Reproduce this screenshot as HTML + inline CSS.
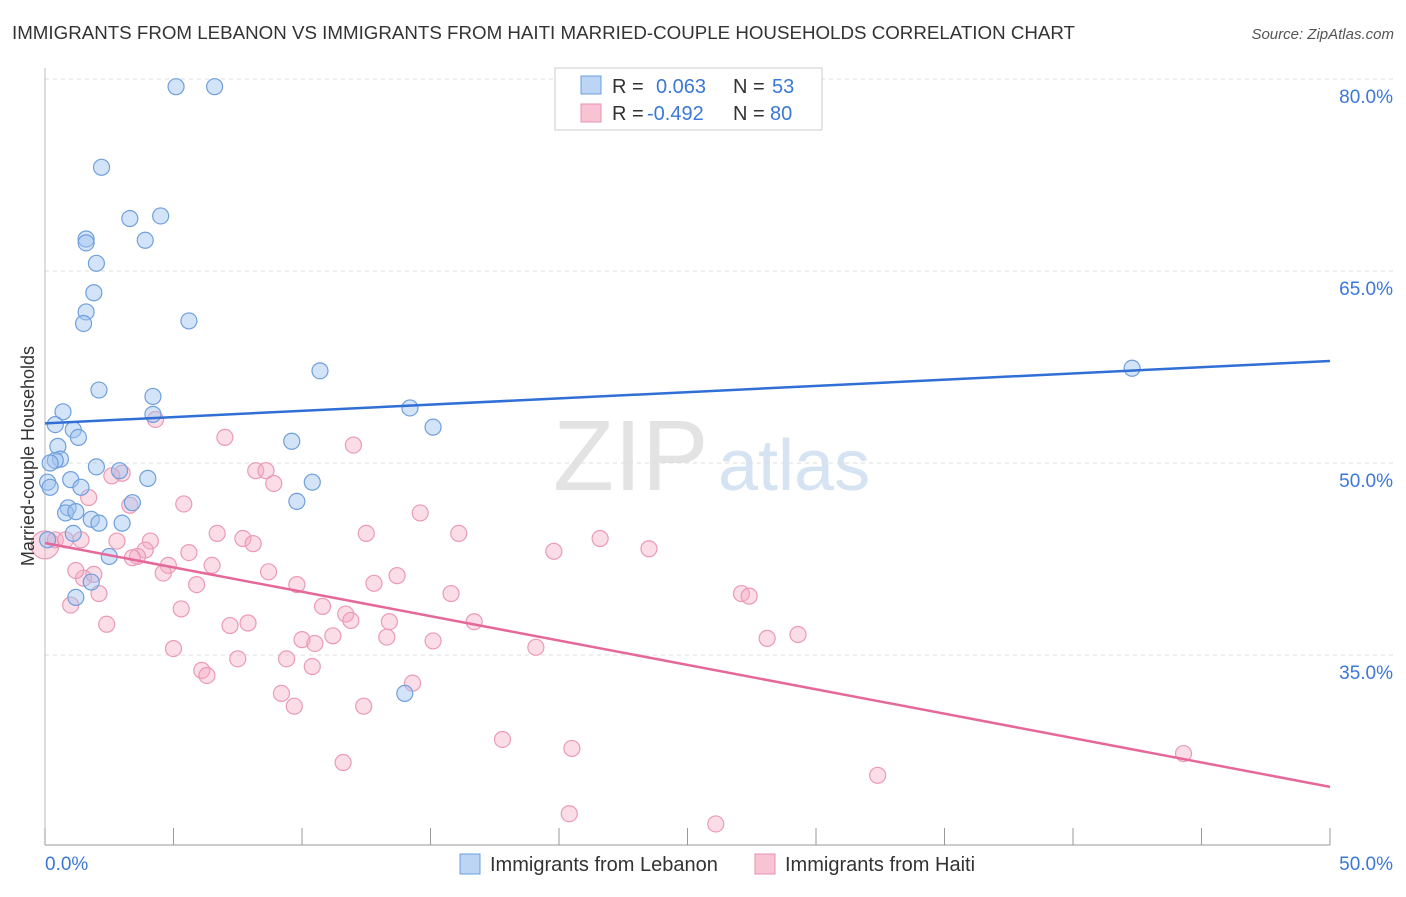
<!DOCTYPE html>
<html><head><meta charset="utf-8">
<style>
body{margin:0;background:#fff;font-family:"Liberation Sans",sans-serif;}
svg text{font-family:"Liberation Sans",sans-serif;}
</style></head>
<body>
<svg id="chart" width="1406" height="892" viewBox="0 0 1406 892" xmlns="http://www.w3.org/2000/svg">
<text x="12" y="39" font-size="18" fill="#333" textLength="1063" lengthAdjust="spacingAndGlyphs">IMMIGRANTS FROM LEBANON VS IMMIGRANTS FROM HAITI MARRIED-COUPLE HOUSEHOLDS CORRELATION CHART</text>
<text x="1394" y="39" font-size="15" fill="#555" text-anchor="end" font-style="italic">Source: ZipAtlas.com</text>
<g>
<text x="553" y="490" font-size="100" fill="#e3e3e3" font-family="Liberation Serif, serif">ZIP</text>
<text x="718" y="490" font-size="72" fill="#d5e3f3">atlas</text>
</g>
<g id="grid"></g>
<g id="axes"></g>
<g id="pts"></g>
<g id="lines"></g>
<text transform="translate(34,456) rotate(-90)" font-size="18" fill="#333" text-anchor="middle">Married-couple Households</text>
<g>
<rect x="555" y="68" width="267" height="62" fill="#fff" stroke="#ccc"/>
<rect x="581" y="76" width="20" height="18" fill="#bcd5f5" stroke="#6a9ee0"/>
<text x="612" y="93" font-size="20" fill="#333">R = </text><text x="656" y="93" font-size="20" fill="#3b78d8">0.063</text>
<text x="733" y="93" font-size="20" fill="#333">N = </text><text x="772" y="93" font-size="20" fill="#3b78d8">53</text>
<rect x="581" y="104" width="20" height="18" fill="#f8c4d4" stroke="#e890b0"/>
<text x="612" y="120" font-size="20" fill="#333">R = </text><text x="647" y="120" font-size="20" fill="#3b78d8">-0.492</text>
<text x="733" y="120" font-size="20" fill="#333">N = </text><text x="770" y="120" font-size="20" fill="#3b78d8">80</text>
</g>
<g>
<rect x="460" y="854" width="20" height="20" fill="#bcd5f5" stroke="#6a9ee0"/>
<text x="490" y="871" font-size="20" fill="#333">Immigrants from Lebanon</text>
<rect x="755" y="854" width="20" height="20" fill="#f8c4d4" stroke="#e890b0"/>
<text x="785" y="871" font-size="20" fill="#333">Immigrants from Haiti</text>
</g>
</svg>
<script>
const yTicks=[35,50,65,80];
const xTickLabels=["0.0%","50.0%"];
const blueX=[5.1,6.6,2.2,3.3,4.5,1.6,1.6,3.9,2.0,1.9,1.6,1.5,5.6,10.7,2.1,4.2,0.7,4.2,14.2,42.3,0.4,15.1,1.1,1.3,9.6,0.5,0.6,0.4,0.2,2.0,2.9,4.0,1.0,0.1,0.2,10.4,1.4,9.8,3.4,0.9,0.8,1.2,1.8,2.1,3.0,1.1,2.5,1.8,1.2,14.0,0.1];
const blueY=[79.4,79.4,73.1,69.1,69.3,67.5,67.2,67.4,65.6,63.3,61.8,60.9,61.1,57.2,55.7,55.2,54.0,53.8,54.3,57.4,53.0,52.8,52.6,52.0,51.7,51.3,50.3,50.2,50.0,49.7,49.4,48.8,48.7,48.5,48.1,48.5,48.1,47.0,46.9,46.5,46.1,46.2,45.6,45.3,45.3,44.5,42.7,40.7,39.5,32.0,44.0];
const pinkX=[0,0.4,0.8,1.4,4.3,7.0,12.0,8.2,8.6,3.0,2.6,8.9,1.7,3.3,5.4,14.6,12.5,16.1,6.7,7.7,8.1,4.1,2.8,3.9,5.6,19.8,21.6,23.5,3.6,3.4,4.8,6.5,4.6,8.7,1.9,1.5,1.2,13.7,12.8,9.8,5.9,2.1,15.8,27.1,27.4,1.0,5.3,10.8,11.7,11.9,13.4,16.7,2.4,7.2,7.9,10.0,11.2,13.3,10.5,15.1,28.1,29.3,19.1,5.0,7.5,9.4,10.4,6.1,6.3,14.3,9.2,9.7,12.4,17.8,20.5,44.3,11.6,32.4,20.4,26.1];
const pinkY=[43.6,44.0,44.0,44.0,53.4,52.0,51.4,49.4,49.4,49.2,49.0,48.4,47.3,46.7,46.8,46.1,44.5,44.5,44.5,44.1,43.7,43.9,43.9,43.2,43.0,43.1,44.1,43.3,42.7,42.6,42.0,42.0,41.4,41.5,41.3,41.0,41.6,41.2,40.6,40.5,40.5,39.8,39.8,39.8,39.6,38.9,38.6,38.8,38.2,37.7,37.6,37.6,37.4,37.3,37.5,36.2,36.5,36.4,35.9,36.1,36.3,36.6,35.6,35.5,34.7,34.7,34.1,33.8,33.4,32.8,32.0,31.0,31.0,28.4,27.7,27.3,26.6,25.6,22.6,21.8];
const blueTrend=[53.1,57.97];
const pinkTrend=[43.75,24.7];
const NS="http://www.w3.org/2000/svg";
const xs=v=>45+v*25.7, ys=v=>463-(v-50)*12.8;
function mk(tag,attrs,parent){const e=document.createElementNS(NS,tag);for(const k in attrs)e.setAttribute(k,attrs[k]);document.getElementById(parent).appendChild(e);return e;}
yTicks.forEach(t=>{
 const l=mk('line',{x1:45,x2:1394,y1:ys(t),y2:ys(t),stroke:'#ddd','stroke-dasharray':'4,4'},'grid');
 
 
 const tx=mk('text',{x:1393,y:ys(t)+24,'font-size':19,fill:'#3b78d8','text-anchor':'end'},'grid');
 tx.textContent=t.toFixed(1)+'%';
 
 
});
const ax=mk('line',{x1:45,x2:1330,y1:845,y2:845,stroke:'#999'},'axes');


const ay=mk('line',{x1:45,x2:45,y1:68,y2:845,stroke:'#bbb'},'axes');


for(let i=0;i<=10;i++){const t=mk('line',{x1:xs(i*5),x2:xs(i*5),y1:828,y2:845,stroke:'#999'},'axes');
 
 }
[[0,'start',45],[50,'end',1393]].forEach((p,i)=>{const t=mk('text',{x:p[2],y:870,'font-size':19,fill:'#3b78d8','text-anchor':p[1]},'axes');t.textContent=xTickLabels[i];
 
 });
pinkX.forEach((x,i)=>{const c=mk('circle',{cx:xs(x),cy:ys(pinkY[i]),r:i===0?14:8,fill:'rgba(244,170,195,0.4)',stroke:'#eb9ab6','stroke-width':1.2},'pts');
 
 });
blueX.forEach((x,i)=>{const c=mk('circle',{cx:xs(x),cy:ys(blueY[i]),r:8,fill:'rgba(160,195,240,0.45)',stroke:'#6f9fdc','stroke-width':1.2},'pts');
 
 });
const bl=mk('line',{x1:xs(0),x2:xs(50),y1:ys(blueTrend[0]),y2:ys(blueTrend[1]),stroke:'#2f6fd6','stroke-width':2.5},'lines');


const pl=mk('line',{x1:xs(0),x2:xs(50),y1:ys(pinkTrend[0]),y2:ys(pinkTrend[1]),stroke:'#e6689a','stroke-width':2.5},'lines');


</script>
</body></html>
